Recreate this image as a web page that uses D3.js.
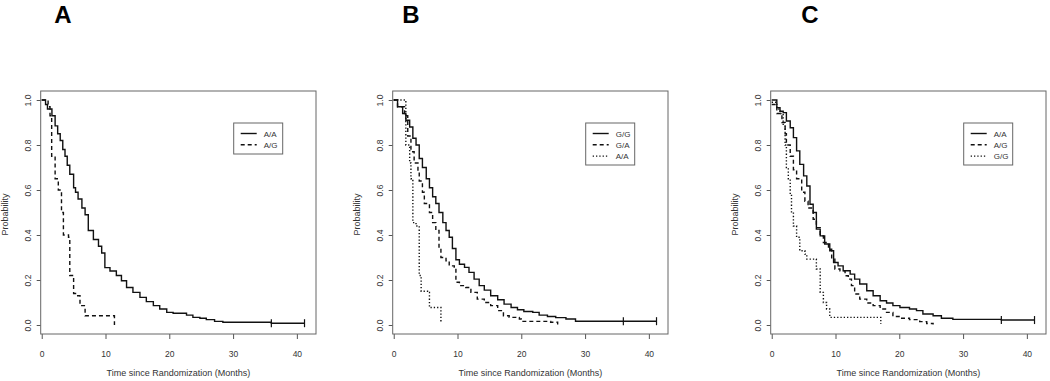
<!DOCTYPE html>
<html>
<head>
<meta charset="utf-8">
<script src="https://cdn.jsdelivr.net/npm/d3@7"></script>
<style>
  body { margin: 0; background: #fff; }
  svg text { font-family: "Liberation Sans", Arial, sans-serif; fill: #333; }
</style>
</head>
<body>
<div id="chart"></div>
<script>
// Kaplan-Meier curves, three panels: [months, survival]
const xTicks = [0, 10, 20, 30, 40];
const yTicks = [0, 0.2, 0.4, 0.6, 0.8, 1.0];
const xTitle = 'Time since Randomization (Months)';
const yTitle = 'Probability';

const panelA_AA = [[0,1],[0.6,0.98],[0.9,0.96],[1.6,0.93],[2.1,0.885],[2.5,0.85],[2.9,0.82],[3.3,0.78],[3.65,0.75],
  [4.0,0.71],[4.4,0.67],[5.0,0.61],[5.3,0.59],[5.7,0.56],[6.3,0.52],[6.8,0.49],[7.3,0.42],[8.1,0.38],[8.9,0.35],
  [9.4,0.32],[9.9,0.255],[10.7,0.24],[11.7,0.22],[12.5,0.197],[13.3,0.167],[14.3,0.145],[15.4,0.123],[16.4,0.104],
  [17.5,0.086],[18.5,0.071],[19.6,0.056],[20.6,0.052],[22.7,0.044],[23.7,0.034],[24.8,0.03],[25.8,0.024],[27.1,0.016],
  [28.4,0.012],[36.0,0.008],[41.2,0.008]];
const panelA_AG = [[0,1],[1.0,0.97],[1.3,0.93],[1.56,0.75],[2.1,0.65],[2.6,0.6],[3.1,0.5],[3.4,0.4],[4.2,0.39],
  [4.4,0.22],[5.0,0.14],[5.5,0.13],[6.0,0.086],[6.8,0.041],[11.4,0.0],[11.4,0.0]];

const panelB_GG = [[0,1],[0.6,0.97],[1.4,0.94],[1.9,0.91],[2.5,0.88],[3.0,0.83],[3.5,0.8],[4.0,0.74],[4.5,0.7],
  [5.1,0.65],[5.6,0.61],[6.1,0.57],[6.6,0.54],[7.1,0.5],[7.7,0.455],[8.2,0.42],[8.7,0.39],[9.2,0.34],[9.75,0.29],
  [10.3,0.27],[11.1,0.256],[11.8,0.234],[12.6,0.204],[13.4,0.175],[14.2,0.155],[15.2,0.13],[16.3,0.112],[17.3,0.093],
  [18.4,0.078],[19.4,0.068],[20.4,0.06],[21.8,0.056],[22.8,0.044],[24.1,0.038],[25.4,0.033],[27.0,0.027],[28.5,0.017],
  [41.2,0.017]];
const panelB_GA = [[0,1],[0.6,0.97],[1.7,0.93],[2.2,0.84],[2.7,0.77],[3.2,0.72],[3.8,0.68],[4.0,0.64],[4.5,0.59],
  [4.8,0.54],[5.6,0.5],[6.1,0.455],[6.6,0.42],[7.1,0.34],[7.4,0.3],[8.2,0.285],[8.7,0.263],[9.5,0.256],[9.75,0.19],
  [10.3,0.175],[11.3,0.167],[12.1,0.145],[13.1,0.115],[14.2,0.1],[15.2,0.086],[16.3,0.064],[17.2,0.041],[18.1,0.034],
  [19.7,0.027],[20.0,0.016],[24.6,0.012],[25.7,0.002],[25.7,0.002]];
const panelB_AA = [[0,1],[1.9,0.8],[2.5,0.72],[2.7,0.65],[3.0,0.455],[3.5,0.44],[4.0,0.22],[4.3,0.15],[5.3,0.145],
  [5.6,0.078],[7.4,0.01],[7.4,0.01]];

const panelC_AA = [[0,1],[0.8,0.966],[1.3,0.95],[1.8,0.944],[2.3,0.907],[2.9,0.877],[3.4,0.833],[3.9,0.774],[4.4,0.714],
  [5.0,0.663],[5.5,0.618],[6.0,0.537],[6.5,0.5],[7.0,0.426],[7.6,0.396],[8.3,0.36],[9.1,0.33],[9.7,0.278],[10.4,0.263],
  [11.2,0.241],[12.3,0.226],[13.0,0.204],[13.8,0.182],[14.9,0.152],[15.9,0.13],[17.0,0.108],[18.0,0.098],[19.0,0.086],
  [20.1,0.078],[21.6,0.071],[22.7,0.064],[23.7,0.049],[25.3,0.041],[26.6,0.03],[28.4,0.025],[36.0,0.022],[41.2,0.022]];
const panelC_AG = [[0,0.98],[0.8,0.94],[1.6,0.9],[2.1,0.85],[2.3,0.8],[2.9,0.75],[3.4,0.69],[3.9,0.65],[4.7,0.59],
  [5.2,0.55],[5.7,0.52],[6.5,0.47],[7.0,0.433],[7.6,0.396],[8.1,0.367],[8.9,0.337],[9.4,0.293],[9.9,0.249],[10.7,0.241],
  [11.5,0.219],[12.0,0.204],[12.5,0.175],[13.0,0.138],[13.8,0.115],[14.9,0.098],[15.9,0.086],[17.0,0.071],[18.0,0.056],
  [19.0,0.038],[20.1,0.03],[21.6,0.024],[23.2,0.015],[24.3,0.007],[25.3,0.002],[25.3,0.002]];
const panelC_GG = [[0,0.99],[0.8,0.96],[1.3,0.94],[1.8,0.885],[2.1,0.8],[2.3,0.7],[2.6,0.65],[2.9,0.58],[3.1,0.5],
  [3.4,0.44],[3.9,0.39],[4.4,0.33],[5.2,0.315],[5.5,0.293],[7.0,0.249],[7.6,0.145],[8.1,0.1],[8.6,0.071],[9.1,0.034],
  [17.1,0.005],[17.1,0.005]];

const censorTimes = [36.0, 41.2];

const panels = [
  { letter: 'A', letterX: 63, off: 0, series: [
    { name: 'A/A', data: panelA_AA, dash: null, censor: true },
    { name: 'A/G', data: panelA_AG, dash: '4,3' }
  ]},
  { letter: 'B', letterX: 411, off: 352, series: [
    { name: 'G/G', data: panelB_GG, dash: null, censor: true },
    { name: 'G/A', data: panelB_GA, dash: '4,3' },
    { name: 'A/A', data: panelB_AA, dash: '1.3,2' }
  ]},
  { letter: 'C', letterX: 810, off: 730, series: [
    { name: 'A/A', data: panelC_AA, dash: null, censor: true },
    { name: 'A/G', data: panelC_AG, dash: '4,3' },
    { name: 'G/G', data: panelC_GG, dash: '1.3,2' }
  ]}
];

const svg = d3.select('#chart').append('svg')
  .attr('width', 1050)
  .attr('height', 381);

const boxTop = 91, boxBottom = 334, boxW = 275.3;

panels.forEach(p => {
  const left = 40.7 + p.off;
  const x = d3.scaleLinear().domain([-0.16, 43]).range([left, left + boxW]);
  const y = d3.scaleLinear().domain([-0.04, 1.04]).range([boxBottom, boxTop]);

  // panel letter
  svg.append('text')
    .attr('x', p.letterX).attr('y', 23)
    .attr('text-anchor', 'middle')
    .style('font-size', '24px').style('font-weight', 'bold').style('fill', '#000')
    .text(p.letter);

  const g = svg.append('g');

  // x axis
  const xAxis = g.append('g')
    .attr('transform', `translate(0,${boxBottom})`)
    .call(d3.axisBottom(x).tickValues(xTicks).tickSize(5).tickPadding(12));
  xAxis.select('.domain').remove();
  xAxis.selectAll('line').attr('stroke', '#555');
  xAxis.selectAll('text').style('font-size', '8.5px').style('fill', '#333');

  // y axis, labels rotated as in R
  const yAxis = g.append('g')
    .attr('transform', `translate(${left},0)`)
    .call(d3.axisLeft(y).tickValues(yTicks).tickSize(4).tickFormat(d3.format('.1f')));
  yAxis.select('.domain').remove();
  yAxis.selectAll('line').attr('stroke', '#555');
  yAxis.selectAll('text')
    .attr('x', null).attr('dy', null)
    .attr('text-anchor', 'middle')
    .attr('transform', `translate(${-10},0) rotate(-90)`)
    .attr('y', 0)
    .style('font-size', '8.5px').style('fill', '#333');

  // plot box
  g.append('rect')
    .attr('x', left).attr('y', boxTop)
    .attr('width', boxW).attr('height', boxBottom - boxTop)
    .attr('fill', 'none').attr('stroke', '#666').attr('stroke-width', 1);

  // axis titles
  g.append('text')
    .attr('x', left + boxW / 2).attr('y', 376)
    .attr('text-anchor', 'middle')
    .style('font-size', '9px')
    .text(xTitle);
  g.append('text')
    .attr('transform', `translate(${left - 33},${(boxTop + boxBottom) / 2 + 2}) rotate(-90)`)
    .attr('text-anchor', 'middle')
    .style('font-size', '9px')
    .text(yTitle);

  // curves
  const line = d3.line()
    .x(d => x(d[0]))
    .y(d => y(d[1]))
    .curve(d3.curveStepAfter);

  p.series.forEach(s => {
    g.append('path')
      .datum(s.data)
      .attr('d', line)
      .attr('fill', 'none')
      .attr('stroke', '#111')
      .attr('stroke-width', 1.4)
      .attr('stroke-dasharray', s.dash);

    if (s.censor) {
      censorTimes.forEach(t => {
        const last = s.data.filter(d => d[0] <= t).pop();
        g.append('line')
          .attr('x1', x(t)).attr('x2', x(t))
          .attr('y1', y(last[1]) - 4).attr('y2', y(last[1]) + 4)
          .attr('stroke', '#111').attr('stroke-width', 1.2);
      });
    }
  });

  // legend
  const lx = left + 193, ly = 123;
  const lh = 9 + p.series.length * 11;
  const legend = g.append('g');
  legend.append('rect')
    .attr('x', lx).attr('y', ly).attr('width', 49).attr('height', lh)
    .attr('fill', '#fff').attr('stroke', '#666');
  p.series.forEach((s, i) => {
    const ry = ly + 10.5 + i * 11.3;
    legend.append('line')
      .attr('x1', lx + 7).attr('x2', lx + 23)
      .attr('y1', ry).attr('y2', ry)
      .attr('stroke', '#111').attr('stroke-width', 1.4)
      .attr('stroke-dasharray', s.dash);
    legend.append('text')
      .attr('x', lx + 30).attr('y', ry + 3)
      .style('font-size', '8px')
      .text(s.name);
  });
});
</script>
</body>
</html>
